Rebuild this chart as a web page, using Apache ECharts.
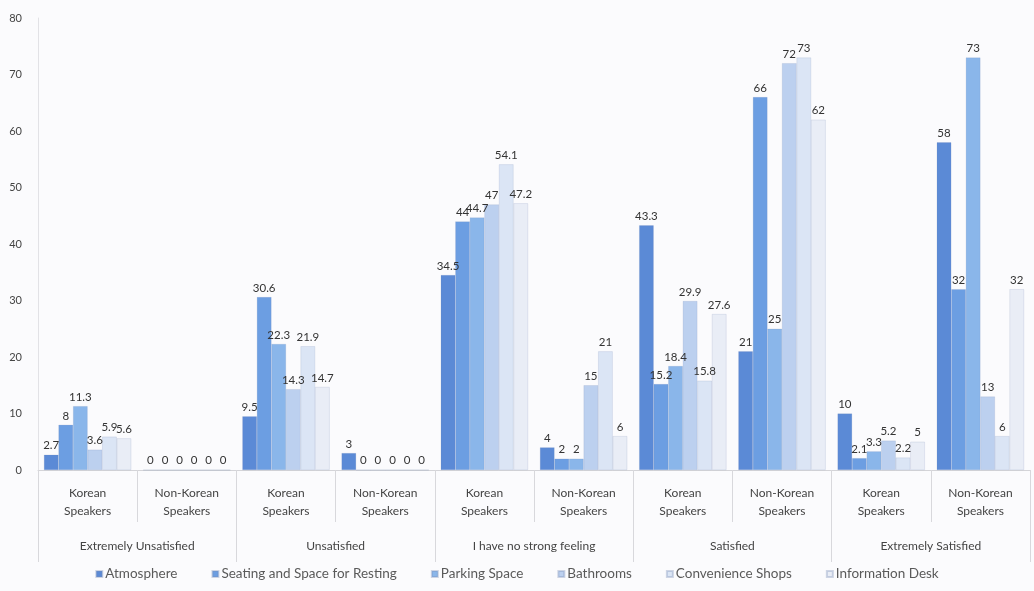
<!DOCTYPE html>
<html>
<head>
<meta charset="utf-8">
<script src="https://cdn.jsdelivr.net/npm/echarts@6/dist/echarts.min.js"></script>
<style>html,body{margin:0;padding:0;background:#fbfbfd;}#c{width:1034px;height:591px;}</style>
</head>
<body>
<div id="c"></div>
<script>
const categories = ['Korean\nSpeakers','Non-Korean\nSpeakers','Korean\nSpeakers','Non-Korean\nSpeakers','Korean\nSpeakers','Non-Korean\nSpeakers','Korean\nSpeakers','Non-Korean\nSpeakers','Korean\nSpeakers','Non-Korean\nSpeakers'];
const groups = ['Extremely Unsatisfied','Unsatisfied','I have no strong feeling','Satisfied','Extremely Satisfied'];
const seriesNames = ['Atmosphere','Seating and Space for Resting','Parking Space','Bathrooms','Convenience Shops','Information Desk'];
const atmosphere = [2.7, 0, 9.5, 3, 34.5, 4, 43.3, 21, 10, 58];
const seating    = [8, 0, 30.6, 0, 44, 2, 15.2, 66, 2.1, 32];
const parking    = [11.3, 0, 22.3, 0, 44.7, 2, 18.4, 25, 3.3, 73];
const bathrooms  = [3.6, 0, 14.3, 0, 47, 15, 29.9, 72, 5.2, 13];
const shops      = [5.9, 0, 21.9, 0, 54.1, 21, 15.8, 73, 2.2, 6];
const infoDesk   = [5.6, 0, 14.7, 0, 47.2, 6, 27.6, 62, 5, 32];
const yTicks = [0,10,20,30,40,50,60,70,80];
const colors = ['#5b8ad6','#6c9ee2','#8ab6ea','#bcd0ef','#dbe5f5','#e9edf6'];

const values = [atmosphere, seating, parking, bathrooms, shops, infoDesk];
const chart = echarts.init(document.getElementById('c'));
const font = 'Lato, "Open Sans", sans-serif';
chart.setOption({
  backgroundColor: '#fbfbfd',
  textStyle: {fontFamily: font},
  animation: false,
  legend: {
    bottom: 5, left: 'center', itemWidth: 6, itemHeight: 6, itemGap: 34,
    icon: 'rect',
    textStyle: {fontSize: 13.5, color: '#5a5a5a', fontFamily: font, padding: [0, 0, 0, -2]},
    data: seriesNames
  },
  grid: {left: 38, right: 4, top: 18, bottom: 121},
  xAxis: [
    {
      type: 'category', data: categories,
      axisLine: {show: true, lineStyle: {color: '#d4d4d8'}},
      axisTick: {show: true, length: 52, lineStyle: {color: '#d8d8dc'}},
      axisLabel: {margin: 14, fontSize: 12, color: '#444', lineHeight: 18, fontFamily: font}
    },
    {
      type: 'category', data: groups, position: 'bottom',
      axisLine: {show: false},
      axisTick: {show: true, length: 92, lineStyle: {color: '#d8d8dc'}},
      axisLabel: {margin: 70, fontSize: 12, color: '#444', fontFamily: font}
    }
  ],
  yAxis: {
    type: 'value', min: 0, max: 80, interval: 10,
    axisLine: {show: true, lineStyle: {color: '#e2e2e6'}},
    axisTick: {show: false},
    splitLine: {show: false},
    axisLabel: {fontSize: 11, color: '#444', margin: 16, fontFamily: font,
      formatter: v => yTicks.includes(v) ? String(v) : ''}
  },
  series: seriesNames.map((name, i) => ({
    name, type: 'bar', xAxisIndex: 0, data: values[i],
    barGap: '0%', barCategoryGap: '12%',
    itemStyle: {color: colors[i], borderColor: 'rgba(120,140,180,0.35)', borderWidth: 0.5},
    label: {show: true, position: 'top', distance: 3, fontSize: 11.5, color: '#333', fontFamily: font}
  }))
});
</script>
</body>
</html>
